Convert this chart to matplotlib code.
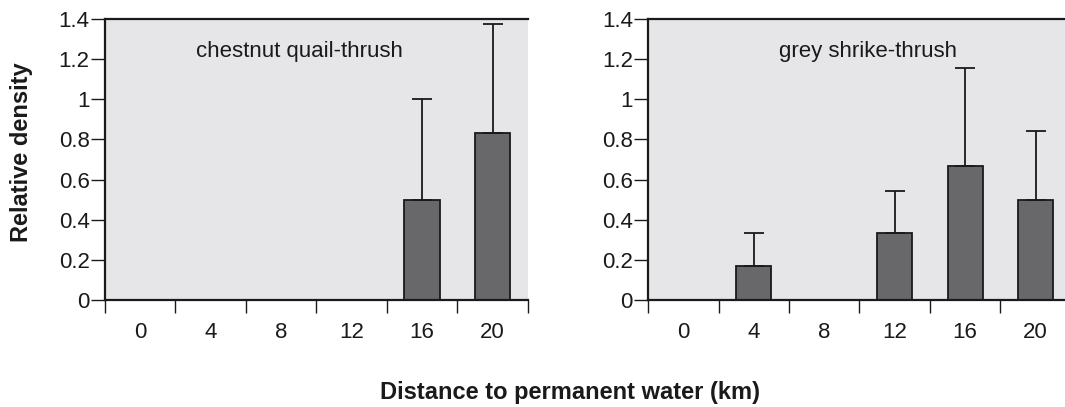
import matplotlib.pyplot as plt
import numpy as np

plt.rcParams['font.family'] = ['Liberation Sans', 'DejaVu Sans']

distances = ['0', '4', '8', '12', '16', '20']

# mean relative density and upper error for each species
quail_mean = [0, 0, 0, 0, 0.5, 0.833]
quail_err = [0, 0, 0, 0, 0.5, 0.545]
shrike_mean = [0, 0.167, 0, 0.333, 0.667, 0.5]
shrike_err = [0, 0.167, 0, 0.21, 0.49, 0.34]

species = ['chestnut quail-thrush', 'grey shrike-thrush']
title_x = [0.461, 0.52]
means = [quail_mean, shrike_mean]
errs = [quail_err, shrike_err]

bg = '#e6e6e8'
bar_col = '#68686b'
ink = '#1a1a1a'

fig = plt.figure(figsize=(10.65, 4.07), dpi=100)
ax1 = fig.add_axes([0.0986, 0.263, 0.397, 0.690])
ax2 = fig.add_axes([0.6085, 0.263, 0.397, 0.690])

x = np.arange(len(distances))
for ax, name, tx, m, e in zip([ax1, ax2], species, title_x, means, errs):
    ax.set_facecolor(bg)
    ax.bar(x, m, width=0.5, color=bar_col, edgecolor=ink, linewidth=1.3, zorder=2)
    # one-sided error bars, upward only
    ax.errorbar(x, m, yerr=[np.zeros(len(m)), e], fmt='none', ecolor=ink,
                elinewidth=1.3, capsize=7, capthick=1.3, zorder=3)
    ax.set_xlim(-0.5, 5.5)
    ax.set_ylim(0, 1.4)
    ax.set_yticks([0, 0.2, 0.4, 0.6, 0.8, 1.0, 1.2, 1.4])
    ax.set_yticklabels(['0', '0.2', '0.4', '0.6', '0.8', '1', '1.2', '1.4'])
    # category boundaries get the tick marks, labels sit between them
    ax.set_xticks(np.arange(-0.5, 6, 1))
    ax.set_xticklabels([])
    ax.set_xticks(x, minor=True)
    ax.set_xticklabels(distances, minor=True)
    ax.tick_params(axis='x', which='major', direction='out', length=9.5, width=1, color=ink)
    ax.tick_params(axis='x', which='minor', length=0, labelsize=16, pad=16, labelcolor=ink)
    ax.tick_params(axis='y', direction='out', length=10, width=1, color=ink,
                   labelsize=16, pad=1, labelcolor=ink)
    ax.spines['right'].set_visible(False)
    for s in ['left', 'top', 'bottom']:
        ax.spines[s].set_linewidth(1.6)
        ax.spines[s].set_color(ink)
    ax.text(tx, 0.886, name, transform=ax.transAxes,
            ha='center', va='center', fontsize=16, color=ink)

fig.text(0.02, 0.625, 'Relative density', rotation=90, ha='center', va='center',
         fontsize=17, fontweight='bold', color=ink)
fig.text(0.535, 0.035, 'Distance to permanent water (km)', ha='center', va='center',
         fontsize=17, fontweight='bold', color=ink)

fig.savefig('out.png', dpi=100)
